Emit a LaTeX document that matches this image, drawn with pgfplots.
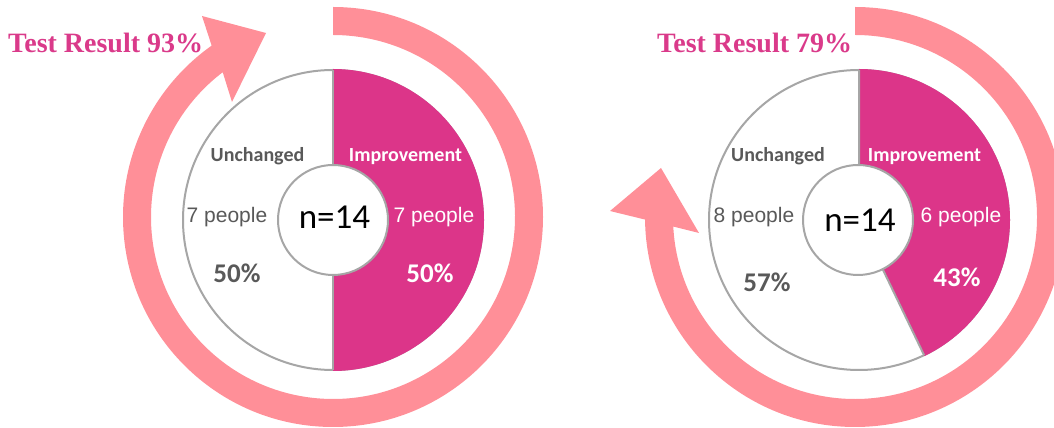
\documentclass[border=0pt]{standalone}
\usepackage{pgfplots}
\usepackage{pgfplotstable}
\usepackage{fontspec}
\pgfplotsset{compat=1.18}
\setmainfont{Carlito}
\newfontfamily\titlefont{Liberation Serif}
\newfontfamily\arialfont{Liberation Sans}

\definecolor{mag}{RGB}{220,53,137}
\definecolor{titlemag}{RGB}{218,58,138}
\definecolor{arrowpink}{RGB}{255,143,152}
\definecolor{ringgray}{RGB}{166,166,166}
\definecolor{txtgray}{RGB}{89,89,89}

% people per group, one row per pie
\pgfplotstableread{
pie unchanged improved
1   7         7
2   8         6
}\piedata

\pgfplotstablegetelem{0}{unchanged}\of\piedata\let\uA\pgfplotsretval
\pgfplotstablegetelem{0}{improved}\of\piedata\let\iA\pgfplotsretval
\pgfplotstablegetelem{1}{unchanged}\of\piedata\let\uB\pgfplotsretval
\pgfplotstablegetelem{1}{improved}\of\piedata\let\iB\pgfplotsretval
\pgfmathsetmacro\endA{90-360*\iA/(\uA+\iA)}
\pgfmathsetmacro\endB{90-360*\iB/(\uB+\iB)}

\tikzset{
  lbl/.style={font=\bfseries\fontsize{20}{24}\selectfont, anchor=base, inner sep=0pt},
  ppl/.style={font=\arialfont\fontsize{21}{24}\selectfont, anchor=base, inner sep=0pt},
  pct/.style={font=\bfseries\fontsize{27}{30}\selectfont, anchor=base, inner sep=0pt},
  nn/.style={font=\fontsize{35}{36}\selectfont, anchor=base, inner sep=0pt},
  ttl/.style={font=\titlefont\bfseries\fontsize{28}{30}\selectfont, text=titlemag, anchor=base west, inner sep=0pt},
}

\begin{document}
\begin{tikzpicture}
\begin{axis}[
    width=1054pt, height=428pt, scale only axis,
    xmin=0, xmax=1054, ymin=0, ymax=428,
    hide axis,
]
\path (axis cs:0,0) rectangle (axis cs:1054,428);

% circular arrows
\fill[arrowpink] (axis cs:333,421) arc[start angle=90, end angle=-234.7, radius=210pt]
  -- (axis cs:202,412) -- (axis cs:266,395) -- (axis cs:232,326)
  -- ([shift={(127.3:182pt)}]axis cs:333,211) arc[start angle=-232.7, end angle=90, radius=182pt] -- cycle;
\fill[arrowpink] (axis cs:855,421) arc[start angle=90, end angle=-179.3, radius=210pt]
  -- (axis cs:610,217) -- (axis cs:661,260) -- (axis cs:699,195)
  -- ([shift={(183:182pt)}]axis cs:855,211) arc[start angle=-177, end angle=90, radius=182pt] -- cycle;

% left donut
\draw[ringgray, line width=2pt, fill=white] (axis cs:333,208) circle[radius=150pt];
\fill[mag] (axis cs:333,208) -- ([shift={(90:151pt)}]axis cs:333,208)
  arc[start angle=90, end angle=\endA, radius=151pt] -- cycle;
\draw[ringgray, line width=2pt] ([shift={(90:150pt)}]axis cs:333,208) -- (axis cs:333,208)
  -- ([shift={(\endA:150pt)}]axis cs:333,208);
\draw[ringgray, line width=2pt, fill=white] (axis cs:333,208) circle[radius=55pt];

% right donut
\draw[ringgray, line width=2pt, fill=white] (axis cs:859,208) circle[radius=150pt];
\fill[mag] (axis cs:859,208) -- ([shift={(90:151pt)}]axis cs:859,208)
  arc[start angle=90, end angle=\endB, radius=151pt] -- cycle;
\draw[ringgray, line width=2pt] ([shift={(90:150pt)}]axis cs:859,208) -- (axis cs:859,208)
  -- ([shift={(\endB:150pt)}]axis cs:859,208);
\draw[ringgray, line width=2pt, fill=white] (axis cs:858,208) circle[radius=55pt];

% titles
\node[ttl] at (axis cs:8,375) {Test Result 93\%};
\node[ttl] at (axis cs:657,375) {Test Result 79\%};

% left labels
\node[lbl, text=txtgray] at (axis cs:257.5,266) {Unchanged};
\node[lbl, text=white] at (axis cs:405.5,266) {Improvement};
\node[ppl, text=txtgray] at (axis cs:227,205) {7 people};
\node[ppl, text=white] at (axis cs:434,205) {7 people};
\node[pct, text=txtgray] at (axis cs:237,145) {50\%};
\node[pct, text=white] at (axis cs:430,145) {50\%};
\node[nn, text=black] at (axis cs:334.5,199) {n=14};

% right labels
\node[lbl, text=txtgray] at (axis cs:778,266) {Unchanged};
\node[lbl, text=white] at (axis cs:924.5,266) {Improvement};
\node[ppl, text=txtgray] at (axis cs:754,205) {8 people};
\node[ppl, text=white] at (axis cs:961,205) {6 people};
\node[pct, text=txtgray] at (axis cs:767,136) {57\%};
\node[pct, text=white] at (axis cs:957,141) {43\%};
\node[nn, text=black] at (axis cs:860,196) {n=14};
\end{axis}
\pgfresetboundingbox
\path[use as bounding box] (current axis.south west) rectangle (current axis.north east);
\end{tikzpicture}
\end{document}
